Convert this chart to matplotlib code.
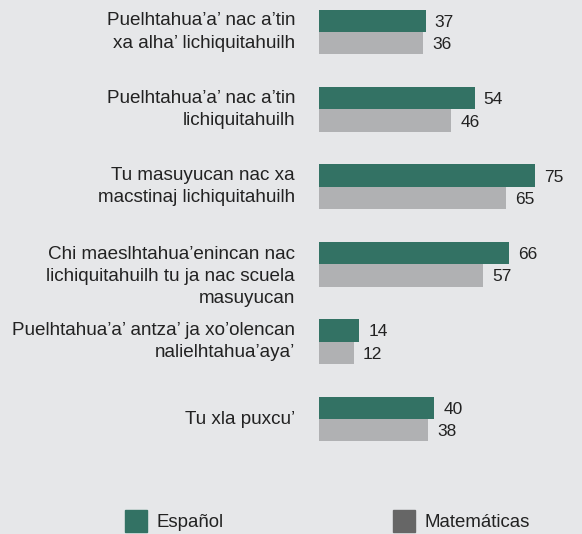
import matplotlib.pyplot as plt
from matplotlib.patches import Patch

categories = [
    "Puelhtahua\u2019a\u2019 nac a\u2019tin\nxa alha\u2019 lichiquitahuilh",
    "Puelhtahua\u2019a\u2019 nac a\u2019tin\nlichiquitahuilh",
    "Tu masuyucan nac xa\nmacstinaj lichiquitahuilh",
    "Chi maeslhtahua\u2019enincan nac\nlichiquitahuilh tu ja nac scuela\nmasuyucan",
    "Puelhtahua\u2019a\u2019 antza\u2019 ja xo\u2019olencan\nnalielhtahua\u2019aya\u2019",
    "Tu xla puxcu\u2019",
]
espanol = [37, 54, 75, 66, 14, 40]
matematicas = [36, 46, 65, 57, 12, 38]
series_names = ["Espa\u00f1ol", "Matem\u00e1ticas"]

BG = "#e6e7e9"
GREEN = "#337264"
GRAY = "#b0b1b3"
LEGEND_GRAY = "#666666"
TEXT = "#222222"

plt.rcParams["font.family"] = ["Liberation Sans", "DejaVu Sans"]

fig = plt.figure(figsize=(5.82, 5.34), dpi=100, facecolor=BG)
ax = fig.add_axes([319 / 582, 0, 263 / 582, 1])
ax.set_facecolor(BG)

px = 77.4  # pixels per group
h = 0.29
ypos = list(range(len(categories)))
ax.barh([y - h / 2 for y in ypos], espanol, height=h, color=GREEN)
ax.barh([y + h / 2 for y in ypos], matematicas, height=h, color=GRAY)

for y, a, b in zip(ypos, espanol, matematicas):
    ax.text(a + 3.2, y - h / 2 + 0.02, str(a), va="center", ha="left",
            fontsize=12.5, color=TEXT)
    ax.text(b + 3.2, y + h / 2 + 0.02, str(b), va="center", ha="left",
            fontsize=12.5, color=TEXT)

# wrapped labels: first two lines sit around the group, a third one spills below
line_h = 24 / px
for y, lab in zip(ypos, categories):
    n = lab.count("\n") + 1
    shift = max(0, n - 2) * line_h / 2
    ax.annotate(lab, xy=(0, y + shift), xycoords="data", xytext=(-24, 0),
                textcoords="offset pixels", ha="right", va="center",
                multialignment="right", fontsize=13.6, color=TEXT,
                linespacing=1.4, annotation_clip=False)

ax.set_xlim(0, 263 / 2.88)
ax.set_ylim((534 - 32) / px, -32 / px)
ax.axis("off")

handles = [Patch(color=GREEN), Patch(color=LEGEND_GRAY)]
fig.legend(handles, series_names, loc="lower left",
           bbox_to_anchor=(125 / 582, 2 / 534), ncol=2, frameon=False,
           fontsize=13.4, handlelength=1.18, handleheight=1.44,
           handletextpad=0.5, columnspacing=9.1, labelcolor=TEXT,
           borderpad=0, borderaxespad=0)

fig.savefig("out.png", dpi=100, facecolor=BG)
